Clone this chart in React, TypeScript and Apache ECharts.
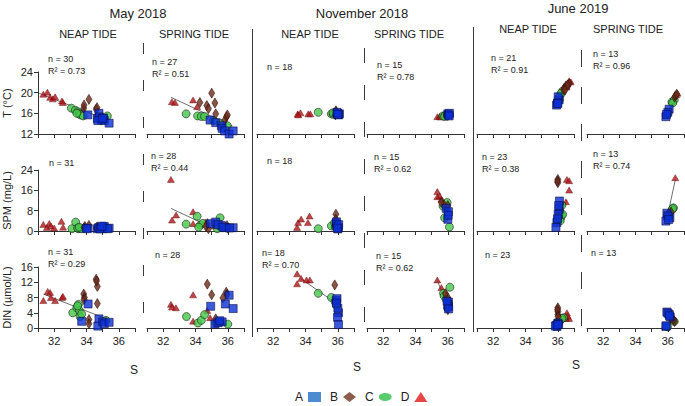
import React, { useEffect, useRef } from "react";
import * as echarts from "echarts";

type Pt = [number, number];
interface Groups { A: Pt[]; B: Pt[]; C: Pt[]; D: Pt[] }

const months = ["May 2018", "November 2018", "June 2019"];
const tides = ["NEAP TIDE", "SPRING TIDE"];
const variables = ["T (°C)", "SPM (mg/L)", "DIN (µmol/L)"];
const yMin = [12, 0, 0];
const yMax = [24, 24, 16];
const yInterval = [4, 8, 4];
const xMin = 31;
const xMax = 37;
const xTickLabels = [32, 34, 36];
const stations = ["A", "B", "C", "D"];

const nValues = [
  [30, 27, 18, 15, 21, 13],
  [31, 28, 18, 15, 23, 13],
  [31, 28, 18, 15, 23, 13],
];
const r2Values: (string | null)[][] = [
  ["0.73", "0.51", null, "0.78", "0.91", "0.96"],
  [null, "0.44", null, "0.62", "0.38", "0.74"],
  ["0.29", null, "0.70", "0.62", null, null],
];

// ---- Temperature ----
const tMayNeap: Groups = {
  A: [[34.08, 15.7], [34.77, 16.0], [34.67, 15.0], [34.8, 15.3], [34.9, 14.7], [35.1, 14.6], [35.05, 15.1], [35.4, 14.1], [34.7, 14.6], [35.0, 15.0]],
  B: [[33.83, 17.0], [33.85, 17.6], [34.15, 18.7], [34.6, 16.8], [34.65, 17.1]],
  C: [[33.06, 17.0], [33.31, 16.6], [33.46, 16.3], [33.55, 15.9], [33.62, 15.7], [33.79, 15.5], [33.4, 16.0], [35.29, 15.5]],
  D: [[31.33, 19.7], [31.58, 20.1], [31.75, 19.1], [31.92, 18.8], [32.06, 19.2], [32.48, 18.4], [32.54, 18.1]],
};
const tMaySpring: Groups = {
  A: [[34.9, 14.7], [35.25, 14.2], [35.6, 13.6], [35.65, 13.1], [35.8, 12.6], [36.08, 12.0], [36.33, 12.6]],
  B: [[34.27, 18.1], [34.7, 17.5], [34.8, 16.9], [35.0, 19.9], [35.2, 18.0], [35.25, 15.9], [35.8, 14.6], [35.92, 15.35], [35.97, 15.7]],
  C: [[33.42, 15.9], [34.13, 15.5], [34.36, 15.4], [34.56, 15.4], [35.1, 14.6], [35.52, 14.1], [35.97, 13.6]],
  D: [[32.54, 18.25], [32.73, 18.1], [33.85, 18.6], [34.1, 17.3]],
};
const tNovNeap: Groups = {
  A: [[35.98, 16.0], [36.1, 15.9], [36.05, 15.7], [35.95, 16.2], [36.0, 15.8]],
  B: [[35.88, 16.5], [35.85, 15.7], [35.9, 16.2]],
  C: [[34.79, 16.2], [35.6, 15.9], [35.72, 15.8], [35.8, 16.0], [35.7, 16.1]],
  D: [[33.52, 15.9], [33.69, 16.1], [34.17, 15.9], [34.3, 15.9], [33.55, 15.7]],
};
const tNovSpring: Groups = {
  A: [[36.0, 15.9], [36.05, 15.7], [36.1, 16.0], [36.08, 15.5]],
  B: [[35.9, 15.7], [36.0, 15.6]],
  C: [[35.7, 15.5], [35.85, 15.6], [36.1, 15.7], [35.95, 15.5], [36.0, 15.8], [35.8, 15.4]],
  D: [[35.35, 15.35], [35.5, 15.45], [35.55, 15.3]],
};
const tJunNeap: Groups = {
  A: [[35.92, 17.6], [36.08, 18.6], [36.02, 19.2], [35.98, 18.0], [36.0, 17.9]],
  B: [[36.4, 20.9], [36.7, 21.7], [36.5, 21.3], [36.35, 20.6], [36.6, 21.5], [36.45, 20.5]],
  C: [[36.15, 19.5], [36.29, 20.3], [36.1, 18.6], [35.98, 18.3], [36.2, 19.9], [36.05, 19.0]],
  D: [[36.6, 21.8], [36.8, 22.1], [36.54, 21.1], [36.7, 22.3]],
};
const tJunSpring: Groups = {
  A: [[35.88, 15.35], [36.08, 16.8], [36.0, 16.2], [35.92, 15.8]],
  B: [[36.42, 19.1], [36.48, 19.4], [36.55, 19.7]],
  C: [[35.98, 15.9], [36.25, 18.2], [36.4, 18.6], [36.3, 18.0]],
  D: [[36.52, 19.6], [36.6, 19.9]],
};

// ---- SPM ----
const spmMayNeap: Groups = {
  A: [[34.1, 1.1], [34.0, 0.9], [34.67, 0.9], [34.75, 1.3], [34.9, 1.1], [35.0, 1.5], [35.1, 1.8], [34.85, 0.8], [35.4, 1.1], [35.3, 0.9], [34.95, 1.9]],
  B: [[33.85, 1.3], [33.9, 1.8], [34.15, 2.2], [34.6, 1.2], [34.65, 1.6]],
  C: [[33.1, 0.9], [33.33, 3.5], [33.5, 0.9], [33.6, 1.0], [33.67, 0.9], [33.45, 1.2], [33.55, 1.5], [35.2, 0.9]],
  D: [[31.33, 2.6], [31.55, 1.4], [31.7, 3.0], [31.8, 2.0], [32.0, 1.2], [32.45, 3.8], [32.55, 1.5]],
};
const spmMaySpring: Groups = {
  A: [[34.94, 2.9], [35.25, 3.5], [35.6, 2.2], [35.8, 1.3], [36.33, 1.3], [35.4, 2.5], [35.7, 1.5], [36.1, 1.2]],
  B: [[34.73, 2.9], [34.8, 0.9], [34.65, 1.8], [35.95, 2.1], [36.0, 1.1]],
  C: [[33.42, 2.7], [34.1, 5.8], [34.3, 2.4], [34.45, 3.0], [34.2, 1.5], [35.52, 5.2], [35.35, 0.9], [36.0, 1.3]],
  D: [[32.48, 20.3], [32.55, 4.3], [32.8, 6.3], [33.85, 7.6], [33.85, 2.9], [34.6, 3.5], [35.2, 2.0]],
};
const spmNovNeap: Groups = {
  A: [[35.9, 2.8], [36.04, 1.4], [35.95, 2.2], [36.0, 0.8], [35.92, 3.6], [36.05, 2.5], [35.97, 1.1]],
  B: [[35.88, 6.6], [35.87, 4.6]],
  C: [[34.79, 0.9], [35.6, 2.0], [35.8, 3.3], [35.85, 1.5]],
  D: [[33.48, 1.4], [33.54, 3.3], [33.73, 4.7], [34.15, 3.3], [34.25, 5.9]],
};
const spmNovSpring: Groups = {
  A: [[35.9, 8.9], [36.04, 7.6], [36.0, 4.6], [36.02, 6.2]],
  B: [[35.75, 10.5], [35.6, 11.2], [36.0, 10.0]],
  C: [[35.7, 9.8], [35.96, 11.2], [35.8, 5.2], [36.1, 1.6]],
  D: [[35.35, 15.5], [35.35, 13.5], [35.5, 13.8], [35.6, 12.5]],
};
const spmJunNeap: Groups = {
  A: [[36.1, 11.8], [36.08, 8.5], [36.02, 6.6], [35.94, 3.3], [35.88, 1.4], [36.05, 10.0], [35.98, 4.8]],
  B: [[36.0, 20.3], [36.0, 19.0], [35.98, 19.6]],
  C: [[36.25, 10.1], [36.1, 7.0], [36.23, 6.2], [36.0, 4.6], [36.18, 5.2], [36.3, 6.5], [36.1, 8.0], [36.15, 4.0], [36.05, 5.5]],
  D: [[36.56, 20.3], [36.7, 19.8], [36.7, 16.1], [36.5, 11.5]],
};
const spmJunSpring: Groups = {
  A: [[35.94, 7.0], [36.13, 5.2], [35.88, 3.9], [36.0, 6.0], [36.05, 4.5]],
  B: [[36.2, 7.5], [36.0, 6.5], [36.1, 6.0]],
  C: [[36.35, 9.1], [36.25, 8.2], [35.98, 5.9], [36.3, 8.8]],
  D: [[36.46, 21.0]],
};

// ---- DIN ----
const dinMayNeap: Groups = {
  A: [[34.1, 6.3], [33.7, 1.75], [34.77, 2.4], [34.7, 0.5], [35.0, 1.6], [35.1, 1.1], [35.4, 1.5]],
  B: [[33.83, 8.9], [33.87, 8.0], [33.85, 7.4], [34.15, 2.2], [34.15, 1.1], [34.6, 12.8], [34.67, 10.9], [34.67, 6.4], [34.62, 12.3]],
  C: [[33.15, 4.0], [33.4, 5.3], [33.5, 6.2], [33.56, 4.6], [33.6, 3.0], [33.7, 3.7], [35.2, 2.0], [33.45, 5.8]],
  D: [[31.33, 7.2], [31.6, 9.6], [31.75, 9.3], [31.8, 8.0], [32.06, 7.2], [32.5, 8.0], [32.54, 8.3]],
};
const dinMaySpring: Groups = {
  A: [[34.94, 5.7], [35.2, 1.0], [35.65, 1.6], [35.85, 6.3], [36.08, 8.6], [36.33, 5.1], [35.4, 1.4], [35.5, 1.9]],
  B: [[34.73, 11.5], [35.0, 8.7], [35.25, 2.4], [35.7, 7.9], [35.9, 9.4], [35.95, 8.8]],
  C: [[33.44, 3.0], [34.15, 1.3], [34.36, 2.0], [34.56, 3.5], [35.27, 1.3], [35.5, 1.6], [36.0, 1.0]],
  D: [[32.48, 6.2], [32.54, 5.5], [32.79, 5.3], [33.85, 8.7], [33.85, 1.8], [34.73, 4.6], [34.9, 2.7]],
};
const dinNovNeap: Groups = {
  A: [[35.9, 7.2], [36.04, 4.0], [35.98, 2.8], [36.04, 0.9], [35.95, 7.7], [36.0, 5.2], [35.92, 6.5]],
  B: [[35.81, 11.3], [35.85, 7.1]],
  C: [[34.79, 9.1], [35.6, 8.0], [35.83, 6.9], [35.9, 6.0]],
  D: [[33.48, 14.2], [33.48, 11.6], [33.73, 13.0], [34.06, 12.6], [34.27, 12.6]],
};
const dinNovSpring: Groups = {
  A: [[36.04, 6.8], [36.04, 5.6], [36.0, 6.2], [35.95, 7.0], [36.05, 5.0]],
  B: [[35.98, 8.1], [36.0, 4.8], [35.85, 9.0]],
  C: [[36.13, 10.7], [35.73, 9.1], [35.77, 8.4], [35.98, 5.2], [35.9, 7.5]],
  D: [[35.35, 12.6], [35.6, 10.6]],
};
const dinJunNeap: Groups = {
  A: [[35.9, 0.7], [36.0, 1.3], [35.95, 0.4], [36.05, 1.0], [35.85, 0.5], [36.0, 0.9]],
  B: [[36.0, 5.3], [36.0, 4.3], [36.0, 3.5], [35.98, 4.8], [36.02, 3.0]],
  C: [[36.35, 2.7], [36.19, 2.2], [36.0, 1.6], [36.1, 1.8], [36.25, 2.5], [36.05, 1.2]],
  D: [[36.56, 4.0], [36.7, 2.5], [36.5, 2.5], [36.6, 3.2], [36.45, 3.0], [36.0, 2.0]],
};
const dinJunSpring: Groups = {
  A: [[35.94, 4.2], [36.08, 3.6], [36.15, 2.9], [35.88, 0.4], [36.0, 3.9], [36.1, 3.2], [35.9, 0.6]],
  B: [[36.42, 1.7], [36.35, 2.2], [36.2, 2.6]],
  C: [[35.98, 0.3], [36.31, 2.0], [36.4, 1.7]],
  D: [],
};

const panelData: Groups[][] = [
  [tMayNeap, tMaySpring, tNovNeap, tNovSpring, tJunNeap, tJunSpring],
  [spmMayNeap, spmMaySpring, spmNovNeap, spmNovSpring, spmJunNeap, spmJunSpring],
  [dinMayNeap, dinMaySpring, dinNovNeap, dinNovSpring, dinJunNeap, dinJunSpring],
];

// regression lines (end points of fitted line), null = no fit drawn
const fitLines: (Pt[] | null)[][] = [
  [[[31.08, 19.87], [35.29, 14.7]], [[32.48, 19.1], [36.29, 13.55]], null, [[35.35, 15.2], [36.19, 16.1]], [[35.88, 17.4], [36.88, 22.3]], [[35.88, 15.35], [36.54, 19.7]]],
  [null, [[32.48, 8.9], [34.5, 2.9]], null, [[35.35, 14.2], [36.02, 7.6]], [[35.88, 1.7], [36.56, 12.2]], [[35.98, 5.9], [36.46, 20.1]]],
  [[[31.33, 8.9], [35.29, 2.3]], null, [[33.7, 13.0], [35.85, 6.6]], [[35.35, 12.4], [36.02, 5.6]], null, null],
];

// ---------- layout & style ----------
const FONT = "Liberation Sans, Arial, Helvetica, sans-serif";
const TEXT = "#222";
const COL_LEFT = [38, 147, 257, 367, 477, 587];
const COL_WIDTH = 97;
const ROW_TOP = [72, 170, 267];
const ROW_HEIGHT = [62, 61, 61];
const ANNOT_POS: Pt[][] = [
  [[48, 59], [152, 62], [267, 67], [377, 65], [491, 58], [593, 54]],
  [[49, 163], [151, 156], [267, 161], [374, 157], [482, 157], [593, 154]],
  [[48, 252], [155, 255], [262, 253], [376, 256], [485, 255], [591, 253]],
];
const MONTH_POS: Pt[] = [[138, 13], [362, 13], [578, 8]];
const NEAP_POS: Pt[] = [[88, 34], [310, 34], [528, 29]];
const SPRING_POS: Pt[] = [[194, 34], [409, 34], [628, 29]];
const S_POS: Pt[] = [[134, 370], [357, 367], [576, 365]];

const markerStyle: Record<string, any> = {
  A: { symbol: "rect", symbolSize: [8, 8], itemStyle: { color: "#0b2fd6", borderColor: "#0a0a3a", borderWidth: 0.7 } },
  B: { symbol: "diamond", symbolSize: [6, 10], itemStyle: { color: "#6b2a1a", borderColor: "#2a0d05", borderWidth: 0.7 } },
  C: { symbol: "circle", symbolSize: 8, itemStyle: { color: "#46c84a", borderColor: "#111", borderWidth: 0.7 } },
  D: { symbol: "triangle", symbolSize: [7, 6], itemStyle: { color: "#b0161a", borderColor: "#5a0000", borderWidth: 0.5 } },
};

function txt(x: number, y: number, text: string, size: number, align = "left", extra: any = {}) {
  return {
    type: "text",
    x,
    y,
    silent: true,
    style: {
      text,
      fontSize: size,
      fontFamily: FONT,
      fill: TEXT,
      align,
      textAlign: align,
      verticalAlign: "middle",
      textVerticalAlign: "middle",
      ...extra,
    },
  };
}

function vline(x: number, y1: number, y2: number, dash?: number[]) {
  return {
    type: "line",
    silent: true,
    shape: { x1: x, y1, x2: x, y2 },
    style: { stroke: "#3a3a3a", lineWidth: 1, lineDash: dash },
  };
}

function buildOption() {
  const grid: any[] = [];
  const xAxis: any[] = [];
  const yAxis: any[] = [];
  const series: any[] = [];
  const graphic: any[] = [];

  for (let r = 0; r < 3; r++) {
    for (let c = 0; c < 6; c++) {
      const idx = r * 6 + c;
      grid.push({
        left: COL_LEFT[c],
        top: ROW_TOP[r],
        width: COL_WIDTH,
        height: ROW_HEIGHT[r],
        containLabel: false,
        outerBoundsMode: "none",
      });
      xAxis.push({
        type: "value",
        gridIndex: idx,
        min: xMin,
        max: xMax,
        interval: 1,
        splitLine: { show: false },
        axisLine: { show: true, onZero: false, lineStyle: { color: "#333", width: 1 } },
        axisTick: { show: true, length: 4, lineStyle: { color: "#333" } },
        axisLabel: {
          show: r === 2,
          margin: 7,
          fontSize: 11,
          fontFamily: FONT,
          color: TEXT,
          formatter: (v: number) => (xTickLabels.includes(v) ? String(v) : ""),
        },
      });
      yAxis.push({
        type: "value",
        gridIndex: idx,
        min: yMin[r],
        max: yMax[r],
        interval: yInterval[r],
        show: c === 0,
        name: c === 0 ? variables[r] : "",
        nameLocation: "middle",
        nameGap: 26,
        nameRotate: 90,
        nameTextStyle: { fontSize: 11, fontFamily: FONT, color: TEXT },
        splitLine: { show: false },
        axisLine: { show: true, lineStyle: { color: "#333", width: 1 } },
        axisTick: { show: true, length: 4, lineStyle: { color: "#333" } },
        axisLabel: { show: true, margin: 5, fontSize: 11, fontFamily: FONT, color: TEXT },
      });

      const fit = fitLines[r][c];
      if (fit) {
        series.push({
          type: "line",
          name: "fit",
          xAxisIndex: idx,
          yAxisIndex: idx,
          data: fit,
          symbol: "none",
          silent: true,
          z: 1,
          lineStyle: { color: "#707070", width: 1 },
        });
      }
      const groups = panelData[r][c];
      ["D", "C", "B", "A"].forEach((k) => {
        series.push({
          type: "scatter",
          name: k,
          xAxisIndex: idx,
          yAxisIndex: idx,
          data: (groups as any)[k],
          z: 2,
          ...markerStyle[k],
        });
      });

      const [ax, ay] = ANNOT_POS[r][c];
      const nLabel = r === 2 && c === 2 ? "n= " + nValues[r][c] : "n = " + nValues[r][c];
      graphic.push(txt(ax, ay, nLabel, 9));
      const r2 = r2Values[r][c];
      if (r2) graphic.push(txt(ax, ay + 12, "R² = " + r2, 9));
    }
  }

  months.forEach((m, i) => {
    graphic.push(txt(MONTH_POS[i][0], MONTH_POS[i][1], m, 13, "center"));
    graphic.push(txt(NEAP_POS[i][0], NEAP_POS[i][1], tides[0], 11, "center"));
    graphic.push(txt(SPRING_POS[i][0], SPRING_POS[i][1], tides[1], 11, "center"));
    graphic.push(txt(S_POS[i][0], S_POS[i][1], "S", 12, "center"));
  });

  graphic.push(vline(252.5, 29, 337));
  graphic.push(vline(473.5, 27, 332));
  graphic.push(vline(143.5, 43, 313, [11, 26]));
  graphic.push(vline(364.5, 48, 322, [15, 22]));
  graphic.push(vline(581.5, 50, 326, [17, 20]));

  return {
    animation: false,
    backgroundColor: "#fff",
    textStyle: { fontFamily: FONT },
    grid,
    xAxis,
    yAxis,
    series,
    graphic,
    legend: {
      left: 295,
      top: 391,
      padding: 0,
      align: "right",
      itemWidth: 13,
      itemHeight: 10,
      itemGap: 9,
      selectedMode: false,
      textStyle: { fontSize: 12, fontFamily: FONT, color: TEXT },
      data: [
        { name: "A", icon: "rect", itemStyle: { color: "#1f6fc3", borderWidth: 0 } },
        { name: "B", icon: "diamond", itemStyle: { color: "#6e3420", borderWidth: 0 } },
        { name: "C", icon: "path://M0,5A8,5 0 1,0 16,5A8,5 0 1,0 0,5Z", itemStyle: { color: "#2fbf4a", borderWidth: 0 } },
        { name: "D", icon: "triangle", itemStyle: { color: "#e01818", borderWidth: 0 } },
      ],
    },
  };
}

export default function App() {
  const ref = useRef<HTMLDivElement>(null);
  useEffect(() => {
    if (!ref.current) return;
    const chart = echarts.init(ref.current, undefined, { renderer: "svg" });
    chart.setOption(buildOption() as any);
    return () => chart.dispose();
  }, []);
  return (
    <div
      ref={ref}
      style={{ position: "fixed", left: 0, top: 0, width: 685, height: 406, background: "#fff" }}
    />
  );
}
